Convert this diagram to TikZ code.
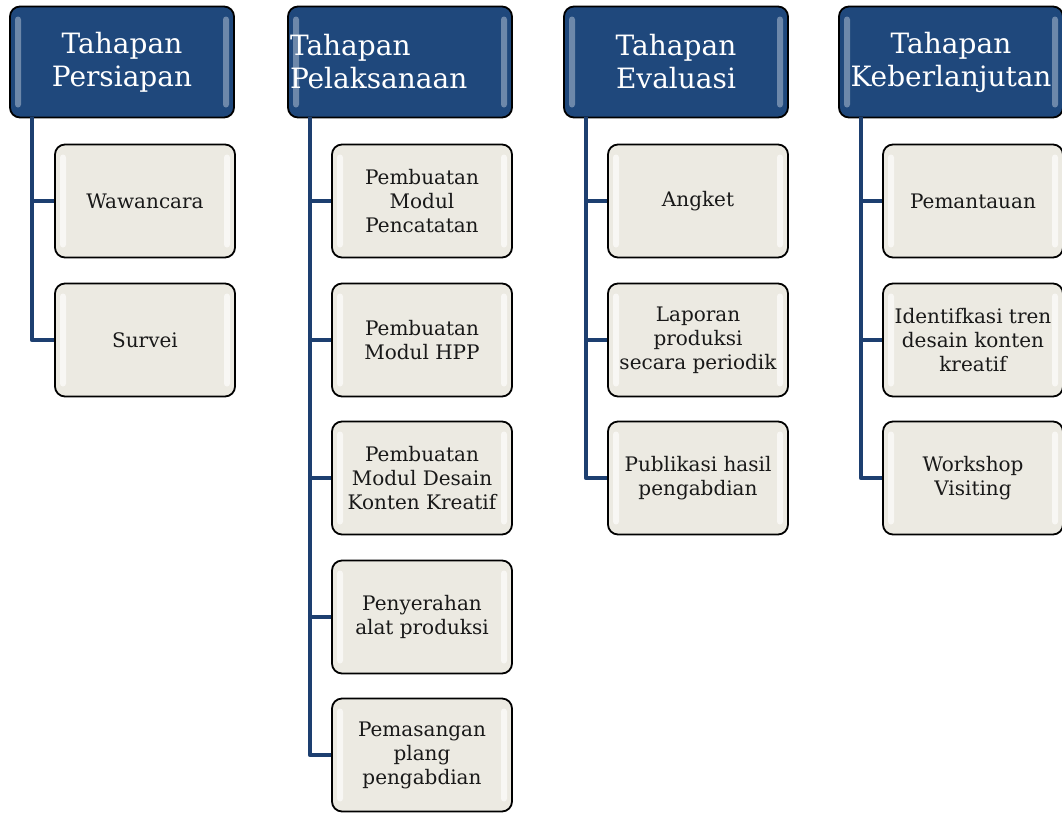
\documentclass[tikz,border=0pt]{standalone}
\usepackage{fontspec}
\setmainfont{DejaVu Serif}
\usetikzlibrary{positioning,calc}

\definecolor{stageblue}{RGB}{31,72,124}
\definecolor{trunkblue}{RGB}{29,63,112}
\definecolor{itemfill}{RGB}{236,234,226}

% glossy strips on the inner left and right edges
\newcommand{\glossstrips}[1]{%
  \fill[#1,rounded corners=3pt]
    ([xshift=5pt,yshift=-10pt]path picture bounding box.north west)
    rectangle ([xshift=11pt,yshift=10pt]path picture bounding box.south west);
  \fill[#1,rounded corners=3pt]
    ([xshift=-5pt,yshift=-10pt]path picture bounding box.north east)
    rectangle ([xshift=-11pt,yshift=10pt]path picture bounding box.south east);}

\tikzset{
  stage/.style={draw=black, line width=1.8pt, rounded corners=10pt,
    fill=stageblue, text=white, minimum width=224pt, minimum height=111pt,
    inner sep=2pt, align=center, font=\fontsize{28}{33}\selectfont,
    path picture={\glossstrips{white!70!stageblue,opacity=0.5}}},
  item/.style={draw=black, line width=1.8pt, rounded corners=10pt,
    fill=itemfill, text=black!90, minimum width=180pt, minimum height=113pt,
    inner sep=2pt, align=center, font=\fontsize{20}{24}\selectfont,
    path picture={\glossstrips{white,opacity=0.65}}},
  trunk/.style={draw=trunkblue, line width=4.5pt, line join=round}
}

\begin{document}
\begin{tikzpicture}[x=1pt, y=-1pt]
  \useasboundingbox (0,0) rectangle (1062,812);

  % stage headers
  \node[stage] (h1) at (122,62) {Tahapan\\Persiapan};
  \node[stage, text width=220pt, align=left] (h2) at (400,62) {Tahapan\\Pelaksanaan};
  \node[stage] (h3) at (676,62) {Tahapan\\Evaluasi};
  \node[stage] (h4) at (951,62) {Tahapan\\Keberlanjutan};

  % trunk start points
  \coordinate (t1) at ($(h1.south west)+(23,-1)$);
  \coordinate (t2) at ($(h2.south west)+(23,-1)$);
  \coordinate (t3) at ($(h3.south west)+(23,-1)$);
  \coordinate (t4) at ($(h4.south west)+(23,-1)$);

  % persiapan
  \node[item] (a1) at (145,201) {Wawancara};
  \node[item] (a2) at (145,340) {Survei};

  % pelaksanaan
  \node[item] (b1) at (422,201) {Pembuatan\\Modul\\Pencatatan};
  \node[item] (b2) at (422,340) {Pembuatan\\Modul HPP};
  \node[item] (b3) at (422,478) {Pembuatan\\Modul Desain\\Konten Kreatif};
  \node[item] (b4) at (422,617) {Penyerahan\\alat produksi};
  \node[item] (b5) at (422,755) {Pemasangan\\plang\\pengabdian};

  % evaluasi
  \node[item] (c1) at (698,201) {Angket};
  \node[item] (c2) at (698,340) {Laporan\\produksi\\secara periodik};
  \node[item] (c3) at (698,478) {Publikasi hasil\\pengabdian};

  % keberlanjutan
  \node[item] (d1) at (973,201) {Pemantauan};
  \node[item] (d2) at (973,340) {Identifkasi tren\\desain konten\\kreatif};
  \node[item] (d3) at (973,478) {Workshop\\Visiting};

  % connectors
  \foreach \n in {a1,a2} \draw[trunk] (t1) |- (\n.west);
  \foreach \n in {b1,b2,b3,b4,b5} \draw[trunk] (t2) |- (\n.west);
  \foreach \n in {c1,c2,c3} \draw[trunk] (t3) |- (\n.west);
  \foreach \n in {d1,d2,d3} \draw[trunk] (t4) |- (\n.west);
\end{tikzpicture}
\end{document}
